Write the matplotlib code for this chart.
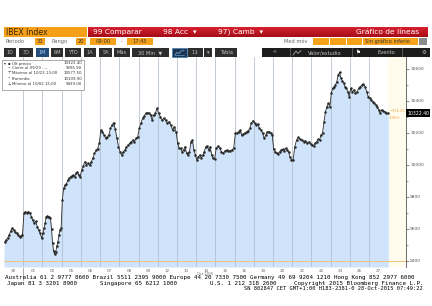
import matplotlib
matplotlib.use('Agg')
import matplotlib.pyplot as plt
import numpy as np
from matplotlib.patches import Rectangle
from matplotlib.colors import LinearSegmentedColormap

# Etiquetas de días (IBEX, barras de 30 min, sep-oct 2015)
days = ['30', '01', '02', '05', '06', '07', '08', '09', '12', '13',
        '14', '15', '16', '19', '20', '21', '22', '23', '26', '27']

d30 = [9519, 9530, 9542, 9561, 9585, 9604, 9592, 9581, 9570, 9561, 9550, 9556, 9561]
d01 = [9696, 9706, 9700, 9706, 9700, 9675, 9654, 9634, 9645, 9612, 9590, 9571, 9540]
d02 = [9571, 9602, 9634, 9675, 9679, 9670, 9675, 9665, 9600, 9509, 9460, 9439, 9456, 9490, 9519, 9560, 9592, 9602]
d05 = [9779, 9852, 9873, 9880, 9904, 9915, 9925, 9930, 9935, 9925, 9946, 9955, 9935, 9925]
d06 = [9967, 9990, 10019, 10000, 10010, 9995, 10019, 10040, 10071, 10090, 10100, 10134]
d07 = [10217, 10206, 10186, 10165, 10175, 10186, 10227, 10248, 10263, 10220, 10165, 10113]
d08 = [10081, 10061, 10081, 10092, 10113, 10123, 10134, 10144, 10154, 10144, 10165, 10175]
d09 = [10227, 10259, 10290, 10304, 10321, 10321, 10325, 10311, 10279, 10311, 10321, 10352]
d12 = [10321, 10300, 10279, 10290, 10279, 10259, 10269, 10248, 10217, 10238, 10206]
d13 = [10134, 10103, 10103, 10081, 10092, 10113, 10071, 10061, 10081, 10144, 10154, 10092, 10061]
d14 = [10029, 10050, 10061, 10040, 10061, 10081, 10113, 10117, 10092, 10113, 10061, 10040, 10035]
d15 = [10103, 10117, 10103, 10081, 10071, 10086, 10092, 10086, 10088, 10092, 10103]
d16 = [10196, 10200, 10206, 10217, 10186, 10192, 10200, 10206, 10213, 10227, 10259, 10275]
d19 = [10259, 10248, 10254, 10227, 10217, 10196, 10165, 10186, 10206, 10206, 10200, 10186]
d20 = [10096, 10081, 10075, 10067, 10081, 10092, 10096, 10088, 10103, 10092, 10081, 10050, 10029]
d21 = [10029, 10113, 10154, 10171, 10159, 10154, 10144, 10150, 10134, 10144, 10130]
d22 = [10123, 10117, 10134, 10144, 10159, 10154, 10186, 10196, 10269, 10331, 10363, 10384, 10363]
d23 = [10446, 10477, 10488, 10498, 10519, 10561, 10577.5, 10540, 10525, 10508, 10488, 10477, 10456, 10425]
d26 = [10477, 10456, 10467, 10446, 10456, 10477, 10488, 10498, 10504, 10488, 10456, 10425]
d27 = [10415, 10404, 10394, 10383, 10373, 10363, 10342, 10321, 10342, 10335, 10331, 10325, 10322.4]
day_values = [d30, d01, d02, d05, d06, d07, d08, d09, d12, d13,
              d14, d15, d16, d19, d20, d21, d22, d23, d26, d27]

prev_close = 9395.90
y_ticks = [9400, 9600, 9800, 10000, 10200, 10400, 10600]
legend_rows = [('Últ precio', '10322.40'),
               ('Cierre al 09/29 ----', '9395.90'),
               ('Máximo al 10/23 13:00', '10577.50'),
               ('Promedio', '10109.90'),
               ('Mínimo al 10/02 15:00', '9439.00')]

W, H = 432, 306
fig = plt.figure(figsize=(W / 100, H / 100), dpi=100)
fig.patch.set_facecolor('white')


def box(x0, y0, x1, y1, color, **kw):
    fig.patches.append(Rectangle((x0 / W, 1 - y1 / H), (x1 - x0) / W, (y1 - y0) / H,
                                 transform=fig.transFigure, facecolor=color, **kw))


def txt(x, y, s, size, color, ha='left', **kw):
    fig.text(x / W, 1 - y / H, s, fontsize=size, color=color, ha=ha, va='center', **kw)


def pline(px, py, color, lw):
    fig.lines.append(plt.Line2D([p / W for p in px], [1 - p / H for p in py],
                                transform=fig.transFigure, color=color, linewidth=lw))


# --- cabecera ---
box(4, 27.3, 87, 36.7, '#f6a01a', edgecolor='none')
txt(6, 32.2, 'IBEX Index', 5.6, '#3a2600')
ax_red = fig.add_axes([88 / W, 1 - 36.7 / H, 340 / W, 9.4 / H])
ax_red.imshow(np.linspace(0, 1, 20).reshape(-1, 1), aspect='auto',
              cmap=LinearSegmentedColormap.from_list('rb', ['#d8202e', '#a50d19']))
ax_red.axis('off')
txt(93, 32.2, '99 Comparar', 5.4, 'white')
txt(163, 32.2, '98 Acc  ▾', 5.4, 'white')
txt(218, 32.2, '97) Camb  ▾', 5.4, 'white')
txt(419, 32.2, 'Gráfico de líneas', 5.4, 'white', ha='right')

# fila 2
txt(6, 41.3, 'Periodo', 3.7, '#666666')
box(35, 37.7, 45, 45, '#f7a21b', edgecolor='none')
txt(40, 41.3, '30', 3.7, '#333333', ha='center')
txt(52, 41.3, 'Rango', 3.7, '#666666')
box(76, 37.7, 86, 45, '#f7a21b', edgecolor='none')
txt(81, 41.3, '20', 3.7, '#333333', ha='center')
box(90, 37.7, 116, 45, '#f7a21b', edgecolor='none')
txt(103, 41.3, '09:00', 3.7, '#333333', ha='center')
txt(122, 41.3, '-', 3.7, '#666666', ha='center')
box(127, 37.7, 153, 45, '#f7a21b', edgecolor='none')
txt(140, 41.3, '17:45', 3.7, '#333333', ha='center')
txt(307, 41.3, 'Med móv', 3.7, '#666666', ha='right')
for bx in [(313, 329), (330, 346), (347, 362)]:
    box(bx[0], 37.7, bx[1], 45, '#f7a21b', edgecolor='none')
box(363, 37.7, 418, 45, '#f7a21b', edgecolor='none')
txt(365, 41.3, 'Sin gráfico inferio', 3.6, '#333333')
box(419, 37.7, 427, 45, '#8a8a8a', edgecolor='none')

# fila 3 (botones)
buttons = [(4, 16, '1D'), (19, 33, '3D'), (36, 49, '1M'), (51, 63, '6M'), (65, 81, 'YTD'),
           (84, 96, '1A'), (99, 112, '5A'), (114, 130, 'Máx'), (132, 169, '30 Min  ▼'),
           (188, 203, '1↕'), (204, 212, '▾'), (215, 237, 'Tabla')]
for x0, x1, lab in buttons:
    sel = lab == '1M'
    box(x0, 48.3, x1, 56.7, '#234d78' if sel else '#2d2d2d', edgecolor='none')
    txt((x0 + x1) / 2, 52.5, lab, 3.6, '#9fd2ff' if sel else '#c4c4c4', ha='center')
box(172, 48.3, 187, 56.7, '#1d3550', edgecolor='#3f7fc0', linewidth=0.5)
pline([175, 177, 179, 181, 184], [55, 52.5, 53.5, 51, 50.5], '#7fb8f0', 0.5)
pline([175, 184], [55.3, 55.3], '#7fb8f0', 0.4)
box(262, 48.3, 430, 56.7, '#1c1c1c', edgecolor='none')
txt(274, 52.3, '«', 4.5, '#c4c4c4', ha='center')
pline([293, 296, 298, 301], [55, 51, 53.5, 50.5], '#c4c4c4', 0.5)
txt(308, 52.5, 'Valor/estudio', 3.7, '#c4c4c4')
txt(358, 52.5, '⚑', 4, '#ffffff', ha='center')
txt(377, 52.5, 'Evento', 3.7, '#c4c4c4')
txt(424, 52.5, '⚙', 4, '#c4c4c4', ha='center')
for sx in [290, 352, 402]:
    box(sx, 48.3, sx + 0.8, 56.7, '#555555', edgecolor='none')

# --- gráfico ---
xs, ys = [], []
for i, vals in enumerate(day_values):
    n = len(vals)
    for k, v in enumerate(vals):
        xs.append(i + (k + 0.5) / n)
        ys.append(v)
xs = np.array(xs)
ys = np.array(ys)

ymin, ymax = 9360.6, 10673.0
xmax = (406 - 4.3) / 19.2
ax = fig.add_axes([4 / W, (H - 267) / H, 402 / W, 210 / H])
ax.set_xlim(0, xmax)
ax.set_ylim(ymin, ymax)
ax.set_facecolor('white')
ax.axvspan(len(days), xmax, color='#fffcee', zorder=0)
fx = np.r_[0, xs, len(days)]
fy = np.r_[ys[0], ys, ys[-1]]
ax.fill_between(fx, fy, ymin, color='#cfe4fa', linewidth=0, zorder=1)
for i in range(1, len(days)):
    ax.axvline(i, color='#aab8c6', linewidth=0.5, zorder=2)
ax.axhline(prev_close, color='#f3c27e', linewidth=0.7, zorder=3)
ax.plot(xs, ys, color='#2a2a2a', linewidth=0.6, marker='.', markersize=1.6, zorder=4)

for s in ['left', 'top', 'bottom']:
    ax.spines[s].set_visible(False)
ax.spines['right'].set_color('#555555')
ax.spines['right'].set_linewidth(0.6)
ax.yaxis.tick_right()
ax.set_yticks(y_ticks)
ax.set_yticks(np.arange(9400, 10700, 100), minor=True)
ax.set_yticklabels([str(t) for t in y_ticks])
ax.tick_params(axis='y', which='major', labelsize=3.2, labelcolor='#555555', color='#555555',
               length=2, width=0.5, pad=1)
ax.tick_params(axis='y', which='minor', color='#555555', length=1.2, width=0.4)
ax.set_xticks(np.arange(len(days)) + 0.5)
ax.set_xticklabels(days)
ax.tick_params(axis='x', labelsize=3.0, labelcolor='#666666', length=0, pad=1.2)

# etiquetas de último precio
yt = ax.get_yaxis_transform()
ax.text(1.003, 10322.4, '10322.40', transform=yt, fontsize=3.3, color='white', va='center',
        ha='left', bbox=dict(boxstyle='square,pad=0.25', fc='black', ec='none'))
ax.text(len(days) + 0.05, 10322.4 + 12, '+926.50', fontsize=2.6, color='#f0a848', va='center')
ax.text(len(days) + 0.05, 10322.4 - 28, '9.86%', fontsize=2.6, color='#f0a848', va='center')

# leyenda
box(2, 60, 84, 89.5, 'white', edgecolor='#8c8c8c', linewidth=0.5)
icons = ['▪', '•', '⊤', '•', '⊥']
for r, (lab, val) in enumerate(legend_rows):
    yy = 63.3 + r * 5.1
    txt(9, yy, icons[r], 2.8, '#333333', ha='center')
    txt(12, yy, lab, 2.8, '#333333')
    txt(82, yy, val, 2.8, '#333333', ha='right')
txt(4.5, 63.3, '▾', 2.8, '#333333', ha='center')

# pie
txt(205, 273.8, 'Oct 2015', 2.5, '#666666', ha='center')
pline([23.3, 23.3], [267.5, 280], '#888888', 0.5)
mono = 'DejaVu Sans Mono'
txt(5, 277.2, 'Australia 61 2 9777 8600 Brazil 5511 2395 9000 Europe 44 20 7330 7500 '
    'Germany 49 69 9204 1210 Hong Kong 852 2977 6000', 4.2, 'black', family=mono)
txt(7, 283.2, 'Japan 81 3 3201 8900', 4.2, 'black', family=mono)
txt(100, 283.2, 'Singapore 65 6212 1000', 4.2, 'black', family=mono)
txt(210, 283.2, 'U.S. 1 212 318 2000', 4.2, 'black', family=mono)
txt(423, 283.2, 'Copyright 2015 Bloomberg Finance L.P.', 4.2, 'black', ha='right', family=mono)
txt(423, 288.8, 'SN 802847 CET GMT+1:00 H183-2381-0 28-Oct-2015 07:49:22', 3.9, 'black',
    ha='right', family=mono)

fig.savefig('out.png', dpi=100)
